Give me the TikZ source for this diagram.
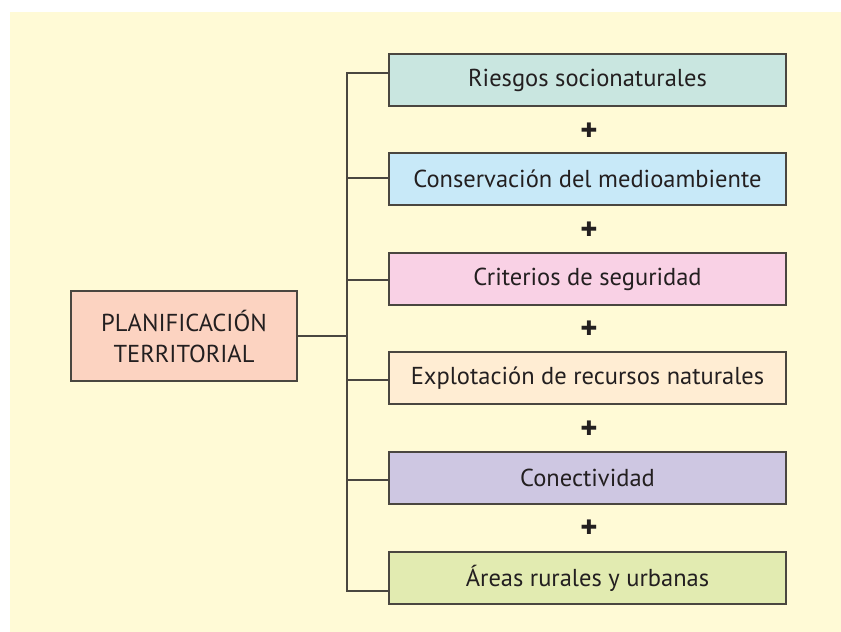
\documentclass[tikz,border=0pt]{standalone}
\usepackage{fontspec}
\setmainfont{PT Sans}
\newfontfamily\symfont{DejaVu Sans}[BoldFont={DejaVu Sans Bold}]
\definecolor{bgc}{HTML}{FFFAD6}
\definecolor{linec}{HTML}{4A4640}
\definecolor{c0}{HTML}{FCD3C1}
\definecolor{c1}{HTML}{C9E6E0}
\definecolor{c2}{HTML}{C8E9F8}
\definecolor{c3}{HTML}{F9D1E5}
\definecolor{c4}{HTML}{FFEDD3}
\definecolor{c5}{HTML}{CEC7E2}
\definecolor{c6}{HTML}{E2EBB1}
\definecolor{textc}{HTML}{231F20}
\begin{document}
\begin{tikzpicture}[x=1pt,y=-1pt,
  box/.style={draw=linec,line width=1.3pt,minimum width=397pt,minimum height=52pt,
    inner sep=0pt,font=\fontsize{24.5}{28}\selectfont,text=textc},
  mainbox/.style={draw=linec,line width=1.3pt,minimum width=226pt,minimum height=90pt,
    inner sep=0pt,align=center,font=\fontsize{24.5}{31}\selectfont,text=textc},
  conn/.style={draw=linec,line width=1.1pt},
  plus/.style={font=\symfont\bfseries\fontsize{20}{20}\selectfont,text=textc,inner sep=0pt}]
\useasboundingbox (0,0) rectangle (841,632);
\fill[white] (0,0) rectangle (841,632);
\fill[bgc] (10,12) rectangle (841,632);
\node[mainbox,fill=c0] (main) at (184,336) {PLANIFICACIÓN\\TERRITORIAL};
\node[box,fill=c1] (b1) at (587.5,80) {Riesgos socionaturales};
\node[box,fill=c2] (b2) at (587.5,179) {Conservación del medioambiente};
\node[box,fill=c3] (b3) at (587.5,279) {Criterios de seguridad};
\node[box,fill=c4] (b4) at (587.5,378) {Explotación de recursos naturales};
\node[box,fill=c5] (b5) at (587.5,478) {Conectividad};
\node[box,fill=c6] (b6) at (587.5,578) {Áreas rurales y urbanas};
\node[plus] (p1) at (589,130) {✚};
\node[plus] (p2) at (589,229) {✚};
\node[plus] (p3) at (589,328.5) {✚};
\node[plus] (p4) at (589,428) {✚};
\node[plus] (p5) at (589,527) {✚};
\coordinate (t) at (347,73);
\coordinate (bt) at (347,591);
\coordinate (j) at (347,336);
\draw[conn] (b1.west |- t) -- (t) -- (bt) -- (b6.west |- bt);
\draw[conn] (main.east) -- (j);
\draw[conn] (347,178) -- (b2.west |- 0,178);
\draw[conn] (347,280) -- (b3.west |- 0,280);
\draw[conn] (347,380) -- (b4.west |- 0,380);
\draw[conn] (347,480) -- (b5.west |- 0,480);
\end{tikzpicture}
\end{document}
